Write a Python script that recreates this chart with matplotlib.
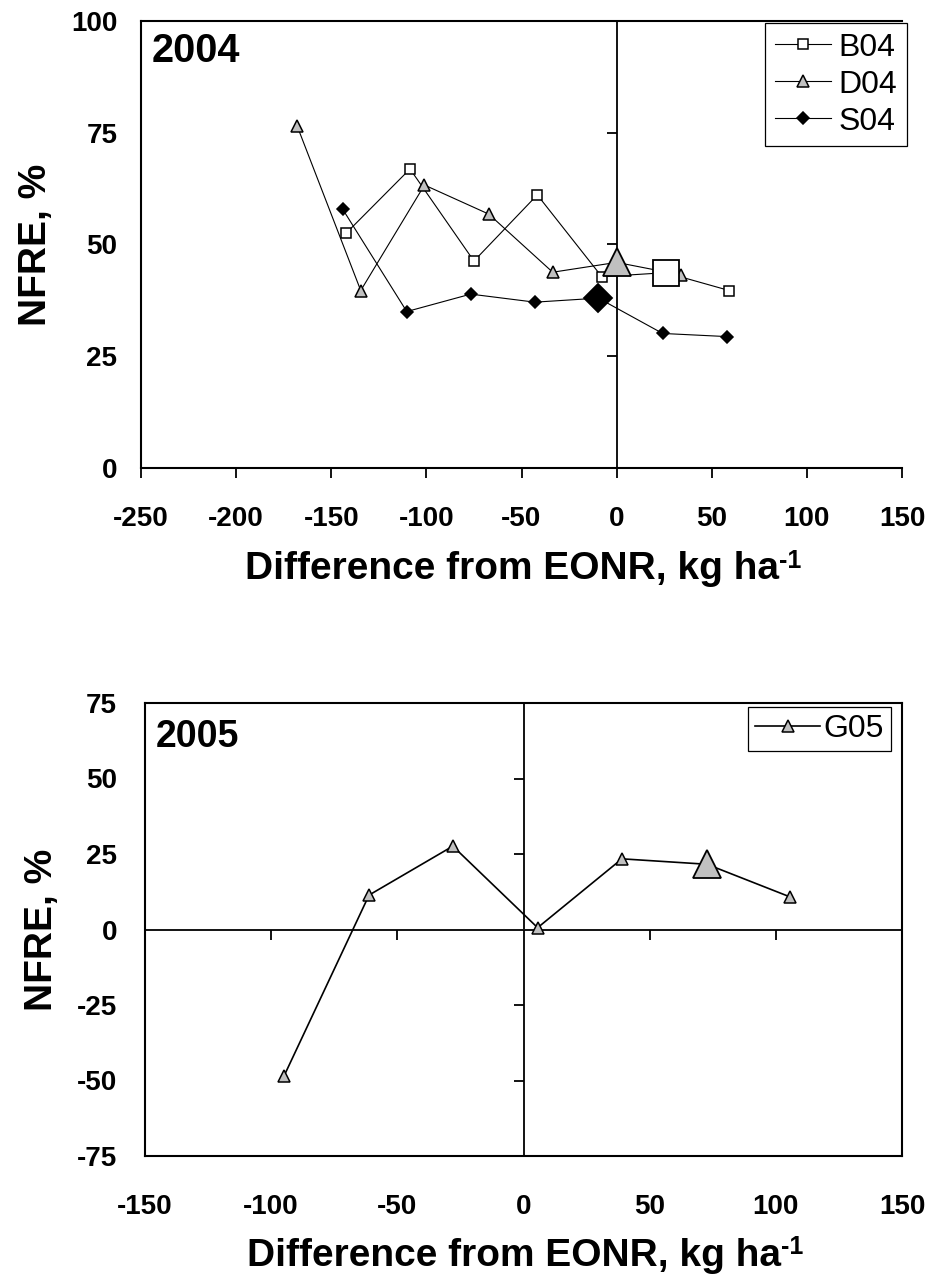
import matplotlib
matplotlib.use("Agg")
import matplotlib.pyplot as plt

plt.rcParams["font.family"] = ["Liberation Sans", "DejaVu Sans"]
plt.rcParams["axes.unicode_minus"] = False

# 2004 sites: N rate difference from EONR (kg/ha) and NFRE (%)
b04_x = [-142, -108.6, -75, -41.7, -7.8, 25.8, 59.2]
b04_y = [52.6, 66.9, 46.3, 61.1, 42.8, 43.7, 39.7]
d04_x = [-168, -134.5, -101, -67.2, -33.6, 0, 33.7]
d04_y = [76.6, 39.7, 63.3, 56.8, 43.8, 46.0, 43.2]
s04_x = [-144, -110.3, -76.7, -43, -9.6, 24.2, 57.9]
s04_y = [57.9, 35.0, 38.9, 37.1, 38.0, 30.1, 29.4]
# index of the point at each site's optimum rate (drawn enlarged)
b04_opt, d04_opt, s04_opt = 5, 5, 4

# 2005 site
g05_x = [-94.9, -61.2, -28.0, 5.6, 39.0, 72.7, 105.6]
g05_y = [-48.5, 11.4, 27.6, 0.6, 23.4, 21.6, 10.8]
g05_opt = 5

xticks_04 = [-250, -200, -150, -100, -50, 0, 50, 100, 150]
yticks_04 = [0, 25, 50, 75, 100]
xticks_05 = [-150, -100, -50, 0, 50, 100, 150]
yticks_05 = [-75, -50, -25, 0, 25, 50, 75]

GRAY = "#c0c0c0"
W, H = 933, 1277
fig = plt.figure(figsize=(W / 100, H / 100), dpi=100)


def rect(l, t, r, b):
    return [l / W, 1 - b / H, (r - l) / W, (b - t) / H]


def draw_series(ax, x, y, opt, marker, fc, ms, big, lw, label):
    keep = [i for i in range(len(x)) if i != opt]
    ax.plot(x, y, color="black", lw=lw, marker=marker, ms=ms, mfc=fc,
            mec="black", mew=1.1, markevery=keep, label=label, zorder=3)
    ax.plot([x[opt]], [y[opt]], ls="none", marker=marker, ms=big, mfc=fc,
            mec="black", mew=1.3, zorder=4)


def axis_labels(ax, xpad):
    ax.set_xlabel("Difference from EONR, kg ha", x=0.487, labelpad=xpad,
                  fontsize=28, fontweight="bold")
    ax.annotate("-1", xy=(1.0, 1.06), xycoords=ax.xaxis.label,
                ha="left", va="top", fontsize=18, fontweight="bold")
    ax.set_ylabel("NFRE, %", labelpad=12, fontsize=28, fontweight="bold")


def legend(ax, right, top, hl, htp, bp, ls):
    leg = ax.legend(loc="upper right", bbox_to_anchor=(right / W, 1 - top / H),
                    bbox_transform=fig.transFigure, borderaxespad=0,
                    fontsize=23, frameon=True, fancybox=False, framealpha=1,
                    edgecolor="black", handlelength=hl, handletextpad=htp,
                    borderpad=bp, labelspacing=ls, numpoints=1)
    leg.get_frame().set_linewidth(0.9)
    return leg


tick_font = 20

# ---------------- 2004 panel ----------------
ax1 = fig.add_axes(rect(141, 21, 902, 468))
ax1.set_xlim(-250, 150)
ax1.set_ylim(0, 100)
draw_series(ax1, b04_x, b04_y, b04_opt, "s", "white", 7.5, 18.5, 0.8, "B04")
draw_series(ax1, d04_x, d04_y, d04_opt, "^", GRAY, 8.5, 19.5, 0.8, "D04")
draw_series(ax1, s04_x, s04_y, s04_opt, "D", "black", 6.3, 14.0, 0.8, "S04")

ax1.spines["right"].set_visible(False)
for s in ("left", "top", "bottom"):
    ax1.spines[s].set_linewidth(1.5)
ax1.set_xticks(xticks_04)
ax1.set_yticks(yticks_04)
ax1.tick_params(axis="x", direction="out", length=7.2, width=1.3,
                pad=20, labelsize=tick_font)
ax1.tick_params(axis="y", length=0, pad=17, labelsize=tick_font)
for t in ax1.get_xticklabels() + ax1.get_yticklabels():
    t.set_fontweight("bold")

# vertical zero line carrying the y ticks
sec1 = ax1.secondary_yaxis(0, transform=ax1.transData)
sec1.set_yticks(yticks_04[1:])
sec1.tick_params(axis="y", direction="out", length=7.2, width=1.3,
                 labelleft=False, labelright=False)
for s in sec1.spines.values():
    s.set_linewidth(1.3)

axis_labels(ax1, 14)
ax1.text(0.0145, 0.975, "2004", transform=ax1.transAxes, ha="left", va="top",
         fontsize=28.5, fontweight="bold")
legend(ax1, 907, 23, 1.75, 0.25, 0.3, 0.22)

# ---------------- 2005 panel ----------------
ax2 = fig.add_axes(rect(145, 703, 902, 1156))
ax2.set_xlim(-150, 150)
ax2.set_ylim(-75, 75)
draw_series(ax2, g05_x, g05_y, g05_opt, "^", GRAY, 9, 19.5, 1.2, "G05")

for s in ax2.spines.values():
    s.set_linewidth(1.5)
ax2.set_xticks(xticks_05)
ax2.set_yticks(yticks_05)
ax2.tick_params(axis="x", length=0, pad=27, labelsize=tick_font)
ax2.tick_params(axis="y", length=0, pad=20, labelsize=tick_font)
for t in ax2.get_xticklabels() + ax2.get_yticklabels():
    t.set_fontweight("bold")

# zero lines carrying the ticks
sec2y = ax2.secondary_yaxis(0, transform=ax2.transData)
sec2y.set_yticks([-50, -25, 25, 50])
sec2y.tick_params(axis="y", direction="out", length=7.2, width=1.3,
                  labelleft=False, labelright=False)
sec2x = ax2.secondary_xaxis(0, transform=ax2.transData)
sec2x.set_xticks([-100, -50, 50, 100])
sec2x.tick_params(axis="x", direction="out", length=7.2, width=1.3,
                  labelbottom=False, labeltop=False)
for s in list(sec2y.spines.values()) + list(sec2x.spines.values()):
    s.set_linewidth(1.3)

axis_labels(ax2, 13)
ax2.text(0.0145, 0.965, "2005", transform=ax2.transAxes, ha="left", va="top",
         fontsize=27, fontweight="bold")
legend(ax2, 891, 707, 2.05, 0.1, 0.22, 0.2)

fig.savefig("out.png", dpi=100, facecolor="white")
